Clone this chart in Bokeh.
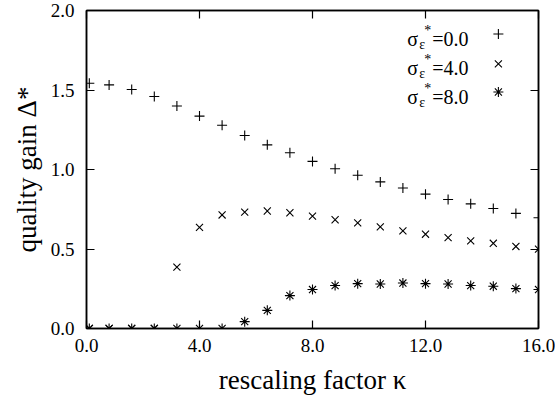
from bokeh.plotting import figure
from bokeh.models import Range1d, FixedTicker, PrintfTickFormatter, LinearAxis
from bokeh.embed import file_html
from bokeh.resources import INLINE
from bokeh.core.properties import value

# ---- data ----
kappa = [0.1, 0.8, 1.6, 2.4, 3.2, 4.0, 4.8, 5.6, 6.4, 7.2, 8.0, 8.8, 9.6,
         10.4, 11.2, 12.0, 12.8, 13.6, 14.4, 15.2, 16.0]
gain_s0 = [1.542, 1.532, 1.503, 1.459, 1.399, 1.336, 1.278, 1.214, 1.155, 1.105,
           1.051, 1.005, 0.964, 0.922, 0.884, 0.845, 0.811, 0.784, 0.755, 0.724, 0.697]
gain_s4 = [0.0, 0.0, 0.0, 0.0, 0.386, 0.636, 0.714, 0.732, 0.739, 0.728, 0.707,
           0.684, 0.664, 0.639, 0.614, 0.593, 0.572, 0.551, 0.536, 0.516, 0.499]
gain_s8 = [0.0, 0.0, 0.0, 0.0, 0.0, 0.0, 0.0, 0.043, 0.114, 0.207, 0.245, 0.270,
           0.282, 0.280, 0.286, 0.282, 0.280, 0.270, 0.266, 0.251, 0.245]
x_ticks = [0, 4, 8, 12, 16]
y_ticks = [0.0, 0.5, 1.0, 1.5, 2.0]
legend_values = ["=0.0", "=4.0", "=8.0"]
markers = ["cross", "x", "asterisk"]

# legend layout (data coordinates)
leg_text_x = 11.35
leg_base_y = [1.821, 1.639, 1.459]
leg_mark_x = 14.58
leg_mark_y = [1.852, 1.664, 1.4875]

SERIF = "Liberation Serif"

p = figure(width=555, height=403, output_backend="svg", toolbar_location=None,
           x_range=Range1d(0, 16), y_range=Range1d(0, 2),
           min_border_left=86, min_border_right=17, min_border_top=10,
           min_border_bottom=75)
p.grid.visible = False
p.background_fill_color = "white"
p.border_fill_color = "white"
p.outline_line_color = "black"
p.outline_line_width = 1.5

for ax, ticks in ((p.xaxis[0], x_ticks), (p.yaxis[0], y_ticks)):
    ax.ticker = FixedTicker(ticks=ticks)
    ax.formatter = PrintfTickFormatter(format="%.1f")
    ax.major_tick_in = 8
    ax.major_tick_out = 0
    ax.minor_tick_line_color = None
    ax.axis_line_color = "black"
    ax.axis_line_width = 1.5
    ax.major_tick_line_color = "black"
    ax.major_tick_line_width = 1.2
    ax.major_label_text_font = SERIF
    ax.major_label_text_font_size = "19px"
    ax.major_label_text_color = "black"
    ax.axis_label_text_font = SERIF
    ax.axis_label_text_font_size = "27px"
    ax.axis_label_text_font_style = "normal"
    ax.axis_label_text_color = "black"

p.xaxis[0].axis_label = "rescaling factor κ"
p.yaxis[0].axis_label = "quality gain Δ*"
p.xaxis[0].major_label_standoff = 10
p.yaxis[0].major_label_standoff = 12
p.xaxis[0].axis_label_standoff = 10
p.yaxis[0].axis_label_standoff = 6

for loc, ticks in (("above", x_ticks), ("right", y_ticks)):
    ax = LinearAxis(ticker=FixedTicker(ticks=ticks), major_tick_in=8, major_tick_out=0,
                    minor_tick_line_color=None,
                    major_label_overrides={t: "" for t in ticks},
                    major_label_standoff=0, axis_line_width=1.5,
                    major_tick_line_width=1.2)
    p.add_layout(ax, loc)

# series
p.scatter(kappa, gain_s0, marker=markers[0], size=10, line_color="black", line_width=1.1)
p.scatter(kappa, gain_s4, marker=markers[1], size=10, line_color="black", line_width=1.1)
p.scatter(kappa, gain_s8, marker=markers[2], size=10, line_color="black", line_width=1.1)

# legend
n = len(legend_values)
p.text(x=[leg_text_x] * n, y=leg_base_y, text=["σ"] * n, text_font=value(SERIF),
       text_font_size="20px", text_baseline="alphabetic", text_align="left", text_color="black")
p.text(x=[leg_text_x] * n, y=leg_base_y, text=["ε"] * n, text_font=value(SERIF),
       text_font_size="14px", text_baseline="alphabetic", text_align="left",
       x_offset=12, y_offset=6, text_color="black")
p.text(x=[leg_text_x] * n, y=leg_base_y, text=["*"] * n, text_font=value(SERIF),
       text_font_size="14px", text_baseline="alphabetic", text_align="left",
       x_offset=17, y_offset=-8, text_color="black")
p.text(x=[leg_text_x] * n, y=leg_base_y, text=legend_values, text_font=value(SERIF),
       text_font_size="20px", text_baseline="alphabetic", text_align="left",
       x_offset=25, text_color="black")
for m, my in zip(markers, leg_mark_y):
    p.scatter([leg_mark_x], [my], marker=m, size=10, line_color="black", line_width=1.1)

open("out.html", "w").write(file_html(p, INLINE))
